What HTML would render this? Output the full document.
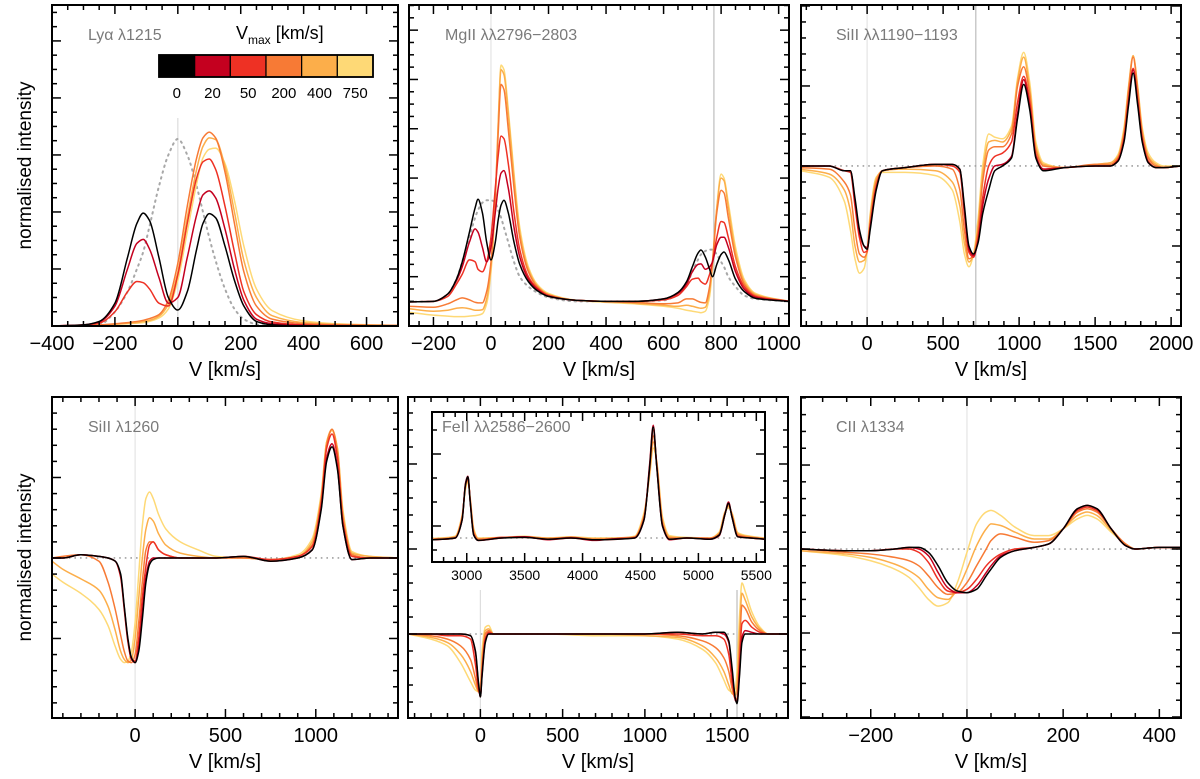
<!DOCTYPE html>
<html><head><meta charset="utf-8"><style>
html,body{margin:0;padding:0;background:#fff;}
svg{display:block;font-family:"Liberation Sans",Arial,sans-serif;}
</style></head><body>
<svg id="fig" width="1200" height="779" viewBox="0 0 1200 779" xmlns="http://www.w3.org/2000/svg"></svg>
<script>
// ---------- data ----------
const vmaxLabels = ["0","20","50","200","400","750"];
const seriesColors = ["#000000","#c4001f","#ee3124","#f77a35","#fcae4a","#fed976"];

// Panel 1: Ly-alpha
const lyaX = [-400,-300,-250,-200,-160,-130,-110,-90,-60,-30,0,30,60,80,100,120,150,180,210,250,300,400,500,700];
const lya0   = [0,0.02,0.08,0.4,1.2,1.8,1.98,1.85,1.2,0.5,0.28,0.6,1.35,1.8,1.97,1.9,1.4,0.8,0.35,0.08,0.02,0,0,0];
const lya20  = [0,0.02,0.07,0.35,1.0,1.45,1.52,1.35,0.85,0.4,0.5,1.2,1.95,2.3,2.37,2.25,1.7,1.0,0.45,0.12,0.04,0.01,0,0];
const lya50  = [0,0.02,0.05,0.25,0.6,0.78,0.76,0.65,0.4,0.35,0.9,1.8,2.6,2.88,2.93,2.75,2.1,1.3,0.6,0.2,0.07,0.02,0.01,0];
const lya200 = [0,0.01,0.02,0.04,0.06,0.08,0.1,0.13,0.2,0.45,1.1,2.1,2.95,3.3,3.4,3.3,2.7,1.8,0.95,0.35,0.12,0.04,0.02,0.01];
const lya400 = [0,0.01,0.02,0.03,0.05,0.06,0.08,0.1,0.17,0.38,0.95,1.9,2.75,3.15,3.3,3.27,2.8,2.0,1.15,0.5,0.18,0.06,0.03,0.01];
const lya750 = [0,0.01,0.02,0.03,0.04,0.05,0.06,0.08,0.14,0.3,0.8,1.65,2.5,2.95,3.1,3.12,2.85,2.2,1.4,0.65,0.27,0.09,0.04,0.01];
const lyaRef = [0,0,0.02,0.25,0.6,1.0,1.3,1.75,2.45,3.0,3.28,3.0,2.45,2.0,1.55,1.15,0.65,0.3,0.12,0.03,0,0,0,0];

// Panel 2: MgII
const mgX = [-285,-200,-150,-120,-100,-75,-55,-45,-30,-15,0,15,25,35,45,60,80,100,130,160,200,300,400,500,600,650,680,700,720,730,745,760,770,785,800,810,825,850,880,920,1036];
const mg0   = [0.49,0.5,0.65,0.95,1.3,1.9,2.4,2.57,2.3,1.7,1.34,1.7,2.15,2.45,2.55,2.3,1.7,1.25,0.9,0.72,0.6,0.52,0.5,0.5,0.55,0.68,0.9,1.2,1.48,1.54,1.4,1.15,1.0,1.25,1.45,1.5,1.35,0.95,0.7,0.56,0.5];
const mg20  = [0.49,0.5,0.65,0.92,1.2,1.7,1.97,1.9,1.6,1.3,1.6,2.3,2.8,3.1,3.15,2.8,2.0,1.4,0.95,0.75,0.6,0.52,0.5,0.5,0.55,0.66,0.85,1.1,1.25,1.26,1.15,1.2,1.3,1.65,1.8,1.8,1.6,1.1,0.75,0.58,0.5];
const mg50  = [0.49,0.5,0.6,0.85,1.05,1.34,1.3,1.15,1.1,1.3,1.8,2.8,3.45,3.85,3.8,3.3,2.3,1.55,1.0,0.77,0.62,0.52,0.5,0.5,0.53,0.62,0.8,0.95,0.97,0.9,0.85,1.05,1.3,1.8,2.12,2.1,1.8,1.2,0.8,0.6,0.5];
const mg200 = [0.4,0.38,0.45,0.53,0.57,0.53,0.48,0.47,0.47,0.7,1.3,2.6,3.9,4.9,4.8,4.0,2.8,1.8,1.1,0.8,0.63,0.52,0.5,0.48,0.45,0.47,0.55,0.55,0.5,0.48,0.47,0.8,1.3,2.3,2.75,2.7,2.2,1.4,0.85,0.62,0.5];
const mg400 = [0.35,0.3,0.32,0.36,0.37,0.35,0.32,0.32,0.33,0.55,1.2,2.6,4.1,5.2,5.1,4.3,3.0,1.9,1.15,0.82,0.64,0.52,0.5,0.46,0.42,0.4,0.42,0.4,0.37,0.36,0.38,0.7,1.3,2.4,3.0,2.95,2.4,1.5,0.9,0.64,0.5];
const mg750 = [0.28,0.22,0.2,0.19,0.19,0.2,0.21,0.22,0.25,0.45,1.1,2.5,4.1,5.29,5.2,4.4,3.1,2.0,1.2,0.85,0.66,0.52,0.48,0.45,0.4,0.36,0.32,0.3,0.28,0.27,0.3,0.6,1.2,2.4,3.08,3.0,2.5,1.6,0.95,0.66,0.5];
const mgRef = [0.49,0.5,0.65,0.95,1.3,1.8,2.2,2.35,2.5,2.55,2.55,2.5,2.35,2.2,2.0,1.7,1.3,1.0,0.8,0.68,0.58,0.5,0.5,0.5,0.52,0.65,0.85,1.1,1.35,1.45,1.52,1.55,1.55,1.45,1.3,1.2,1.0,0.8,0.62,0.55,0.5];

// Panel 3: SiII 1190-1193
const si1X = [-435,-250,-150,-110,-80,-50,-20,0,20,60,100,250,450,560,610,640,670,700,730,760,800,840,890,950,990,1030,1070,1110,1160,1300,1500,1600,1650,1690,1720,1750,1780,1810,1850,1900,1950,2065];
const si1_0   = [1,1,0.97,0.97,0.8,0.6,0.5,0.48,0.6,0.85,0.97,0.99,1.01,1.01,0.98,0.75,0.5,0.45,0.52,0.7,0.85,0.97,1.0,1.05,1.3,1.51,1.35,1.05,0.97,0.99,1.0,1.0,1.03,1.15,1.38,1.58,1.38,1.15,1.02,0.99,0.99,1.0];
const si1_20  = [1,1,0.97,0.97,0.78,0.58,0.5,0.49,0.62,0.86,0.97,0.99,1.01,1.01,0.98,0.73,0.48,0.44,0.53,0.75,0.92,1.0,1.01,1.06,1.33,1.54,1.37,1.06,0.98,0.99,1.0,1.0,1.03,1.16,1.4,1.6,1.4,1.16,1.02,0.99,0.99,1.0];
const si1_50  = [1,1,0.97,0.96,0.75,0.55,0.46,0.47,0.62,0.87,0.97,0.99,1.01,1.0,0.96,0.7,0.46,0.43,0.55,0.8,1.0,1.06,1.08,1.15,1.4,1.56,1.4,1.07,0.98,0.99,1.0,1.0,1.04,1.17,1.41,1.61,1.41,1.17,1.03,0.99,0.99,1.0];
const si1_200 = [0.99,0.98,0.9,0.82,0.6,0.45,0.43,0.46,0.65,0.9,0.97,0.99,1.0,0.98,0.85,0.6,0.42,0.44,0.6,0.9,1.1,1.12,1.12,1.2,1.5,1.62,1.45,1.1,1.0,0.99,1.01,1.01,1.05,1.2,1.47,1.68,1.47,1.2,1.05,1.0,0.99,1.0];
const si1_400 = [0.98,0.95,0.85,0.72,0.5,0.4,0.41,0.47,0.68,0.92,0.97,0.98,0.97,0.9,0.75,0.52,0.4,0.44,0.63,0.95,1.15,1.16,1.15,1.23,1.53,1.68,1.48,1.12,1.01,0.99,1.01,1.02,1.06,1.22,1.49,1.69,1.49,1.22,1.06,1.01,0.99,1.0];
const si1_750 = [0.97,0.93,0.78,0.6,0.42,0.33,0.36,0.47,0.7,0.93,0.96,0.96,0.94,0.85,0.65,0.45,0.37,0.45,0.67,1.0,1.2,1.18,1.17,1.25,1.55,1.71,1.52,1.15,1.02,0.99,1.01,1.02,1.07,1.24,1.5,1.69,1.5,1.24,1.08,1.02,1.0,1.0];

// Panel 4: SiII 1260
const si2X = [-460,-400,-300,-200,-150,-110,-80,-60,-40,-20,0,20,40,60,80,100,130,170,250,350,450,600,750,900,980,1030,1060,1090,1120,1150,1200,1300,1455];
const si2_0   = [1,1,1.02,1.01,1.0,0.98,0.9,0.7,0.5,0.38,0.35,0.42,0.62,0.85,0.96,0.99,1.0,1.0,1.0,1.0,1.0,1.01,0.98,1.0,1.05,1.3,1.6,1.69,1.55,1.2,0.99,1.0,1.0];
const si2_20  = [1,1,1.02,1.01,1.0,0.98,0.89,0.69,0.49,0.37,0.35,0.44,0.66,0.88,0.98,1.0,1.0,1.0,1.0,1.0,1.0,1.01,0.98,1.0,1.05,1.31,1.62,1.71,1.56,1.2,0.99,1.0,1.0];
const si2_50  = [1,1,1.02,1.01,1.0,0.98,0.88,0.68,0.48,0.37,0.36,0.5,0.75,0.95,1.08,1.1,1.05,1.02,1.0,1.0,1.0,1.01,0.99,1.01,1.07,1.34,1.68,1.77,1.62,1.23,1.01,1.0,1.0];
const si2_200 = [1.0,1.01,1.02,0.98,0.85,0.68,0.52,0.42,0.36,0.35,0.4,0.6,0.85,1.05,1.1,1.1,1.05,1.02,1.0,1.0,1.0,1.0,0.99,1.01,1.08,1.36,1.7,1.8,1.65,1.25,1.02,1.0,1.0];
const si2_400 = [0.98,0.93,0.87,0.8,0.7,0.55,0.42,0.37,0.35,0.37,0.5,0.75,1.0,1.18,1.25,1.23,1.15,1.08,1.03,1.01,1.0,1.0,0.99,1.01,1.1,1.38,1.72,1.8,1.68,1.28,1.03,1.01,1.0];
const si2_750 = [0.9,0.85,0.78,0.68,0.58,0.45,0.37,0.35,0.36,0.42,0.6,0.9,1.2,1.37,1.41,1.37,1.27,1.18,1.1,1.05,1.01,1.0,0.99,1.02,1.12,1.4,1.72,1.79,1.68,1.3,1.04,1.01,1.0];

// Panel 5: FeII main
const feX = [-440,-300,-200,-120,-60,-30,-10,0,10,30,50,80,150,400,700,1000,1200,1350,1430,1480,1510,1530,1550,1560,1575,1590,1610,1650,1700,1750,1870];
const fe0   = [1,1,1,1,0.99,0.9,0.7,0.63,0.75,0.95,1.0,1.0,1,1,1,1,1.01,1.0,1.01,1.01,0.96,0.8,0.62,0.59,0.75,0.95,1.0,1.0,1.0,1.0,1.0];
const fe20  = [1,1,1,1,0.99,0.89,0.69,0.63,0.76,0.96,1.0,1.0,1,1,1,1,1.01,1.0,1.01,1.0,0.95,0.78,0.61,0.6,0.77,0.98,1.02,1.01,1.0,1.0,1.0];
const fe50  = [1,1,0.99,0.99,0.97,0.82,0.67,0.64,0.78,0.97,1.01,1.0,1,1,1,1,1.0,0.99,0.99,0.97,0.88,0.72,0.62,0.6,0.82,1.06,1.08,1.04,1.01,1.0,1.0];
const fe200 = [1,0.99,0.97,0.93,0.85,0.74,0.66,0.65,0.8,1.0,1.02,1.0,1,1,1,1,0.99,0.96,0.92,0.86,0.78,0.68,0.62,0.62,0.9,1.17,1.15,1.07,1.02,1.0,1.0];
const fe400 = [1,0.98,0.95,0.88,0.78,0.7,0.66,0.67,0.85,1.02,1.03,1.0,1,1,1,0.99,0.98,0.93,0.86,0.78,0.7,0.65,0.64,0.7,1.0,1.24,1.2,1.1,1.03,1.0,1.0];
const fe750 = [1,0.97,0.93,0.83,0.72,0.67,0.66,0.7,0.9,1.04,1.05,1.0,1,1,0.99,0.99,0.97,0.91,0.83,0.73,0.67,0.66,0.68,0.78,1.1,1.3,1.25,1.13,1.04,1.0,1.0];

// Inset: FeII fluorescent
const finX = [2700,2900,2960,2990,3010,3030,3060,3100,3300,3500,3700,3900,4100,4300,4450,4530,4580,4610,4640,4690,4750,4900,5100,5180,5230,5260,5290,5340,5450,5575];
const fin0   = [0.97,1.0,1.3,1.9,2.02,1.6,1.05,0.96,1.0,1.01,0.98,1.0,0.97,0.98,1.0,1.3,2.2,2.85,2.2,1.2,0.98,1.0,0.98,1.05,1.4,1.58,1.35,1.02,1.0,0.98];
const fin20  = [0.97,1.0,1.3,1.92,2.03,1.6,1.05,0.96,1.0,1.02,0.97,1.0,0.96,0.99,1.0,1.3,2.25,2.88,2.2,1.2,0.97,1.0,0.98,1.04,1.4,1.6,1.35,1.02,1.0,0.98];
const fin50  = [0.97,1.0,1.32,1.9,2.0,1.62,1.07,0.96,1.01,1.01,0.98,1.01,0.97,0.98,1.01,1.32,2.2,2.8,2.22,1.22,0.98,1.0,0.99,1.05,1.4,1.57,1.36,1.03,1.0,0.98];
const fin200 = [0.98,1.01,1.34,1.88,1.98,1.63,1.1,0.98,1.0,1.02,0.99,1.0,0.98,0.99,1.01,1.35,2.15,2.7,2.25,1.25,1.0,1.0,0.99,1.07,1.42,1.55,1.38,1.05,1.01,0.99];
const fin400 = [0.98,1.02,1.36,1.85,1.96,1.65,1.13,0.99,1.01,1.02,1.0,1.01,0.99,1.0,1.02,1.38,2.1,2.6,2.27,1.3,1.02,1.0,1.0,1.08,1.43,1.53,1.4,1.07,1.02,0.99];
const fin750 = [0.99,1.03,1.38,1.82,1.94,1.67,1.16,1.0,1.01,1.03,1.0,1.02,1.0,1.0,1.03,1.42,2.05,2.5,2.28,1.35,1.04,1.01,1.0,1.1,1.44,1.5,1.42,1.09,1.03,1.0];

// Panel 6: CII 1334
const ciX = [-345,-250,-200,-150,-120,-100,-80,-60,-40,-20,0,20,40,50,70,100,140,170,200,230,250,270,300,330,350,400,445];
const ci0   = [1.0,0.99,0.99,1.0,1.01,1.01,0.98,0.9,0.8,0.75,0.74,0.76,0.84,0.88,0.95,0.99,1.01,1.03,1.12,1.24,1.26,1.24,1.12,1.02,1.0,1.01,1.01];
const ci20  = [1.0,0.99,0.99,1.0,1.01,1.0,0.96,0.86,0.77,0.74,0.74,0.78,0.86,0.9,0.96,0.99,1.01,1.03,1.12,1.24,1.26,1.24,1.12,1.02,1.0,1.01,1.01];
const ci50  = [1.0,0.99,0.99,1.0,1.0,0.98,0.92,0.82,0.75,0.74,0.76,0.82,0.9,0.93,0.97,1.0,1.01,1.03,1.12,1.23,1.25,1.23,1.12,1.02,1.0,1.01,1.01];
const ci200 = [1.0,0.98,0.97,0.95,0.93,0.9,0.84,0.77,0.73,0.74,0.8,0.9,1.0,1.05,1.09,1.07,1.04,1.05,1.12,1.22,1.24,1.22,1.12,1.03,1.0,1.01,1.01];
const ci400 = [0.99,0.97,0.95,0.91,0.87,0.83,0.76,0.71,0.7,0.76,0.88,1.02,1.12,1.15,1.14,1.1,1.06,1.06,1.12,1.2,1.22,1.2,1.11,1.03,1.0,1.01,1.01];
const ci750 = [0.99,0.96,0.93,0.88,0.83,0.77,0.7,0.66,0.68,0.8,0.98,1.15,1.22,1.23,1.2,1.13,1.08,1.08,1.12,1.18,1.2,1.18,1.1,1.03,1.0,1.01,1.01];

// ---------- drawing ----------
const NS = "http://www.w3.org/2000/svg";
const svg = document.getElementById('fig');
function el(tag, attrs, parent) {
  const e = document.createElementNS(NS, tag);
  for (const k in attrs) e.setAttribute(k, attrs[k]);
  (parent || svg).appendChild(e);
  return e;
}
let clipId = 0;
// monotone cubic (Fritsch-Carlson) interpolation in pixel space, sampled densely
function smoothPath(pts) {
  const n = pts.length, xs = pts.map(p => p[0]), ys = pts.map(p => p[1]);
  const d = [], m = new Array(n);
  for (let i = 0; i < n - 1; i++) d.push((ys[i + 1] - ys[i]) / (xs[i + 1] - xs[i]));
  m[0] = d[0]; m[n - 1] = d[n - 2];
  for (let i = 1; i < n - 1; i++) {
    if (d[i - 1] * d[i] <= 0) m[i] = 0;
    else {
      const h0 = xs[i] - xs[i - 1], h1 = xs[i + 1] - xs[i];
      const w1 = 2 * h1 + h0, w2 = h1 + 2 * h0;
      m[i] = (w1 + w2) / (w1 / d[i - 1] + w2 / d[i]);
    }
  }
  let s = "M" + xs[0].toFixed(2) + "," + ys[0].toFixed(2);
  for (let i = 0; i < n - 1; i++) {
    const h = xs[i + 1] - xs[i];
    s += "C" + (xs[i] + h / 3).toFixed(2) + "," + (ys[i] + m[i] * h / 3).toFixed(2) + " " +
         (xs[i + 1] - h / 3).toFixed(2) + "," + (ys[i + 1] - m[i + 1] * h / 3).toFixed(2) + " " +
         xs[i + 1].toFixed(2) + "," + ys[i + 1].toFixed(2);
  }
  return s;
}
function makePanel(cfg) {
  const g = el('g', {});
  
  
  const sx = v => cfg.L + (v - cfg.x0) / (cfg.x1 - cfg.x0) * (cfg.R - cfg.L);
  const sy = v => cfg.B - (v - cfg.y0) / (cfg.y1 - cfg.y0) * (cfg.B - cfg.T);
  const id = 'clip' + (clipId++);
  const cp = el('clipPath', { id: id }, g);
  el('rect', { x: cfg.L, y: cfg.T, width: cfg.R - cfg.L, height: cfg.B - cfg.T }, cp);
  const plot = el('g', { 'clip-path': 'url(#' + id + ')' }, g);
  (cfg.vlines || []).forEach(vl => {
    const ln = el('line', { x1: sx(vl[0]), x2: sx(vl[0]), y1: vl[2] || cfg.T, y2: cfg.B, stroke: vl[1], 'stroke-width': 1.2 }, plot);
    
    
  });
  if (cfg.cont !== undefined) {
    const ln = el('line', { x1: cfg.L, x2: cfg.R, y1: sy(cfg.cont), y2: sy(cfg.cont), stroke: '#a0a0a0', 'stroke-width': 1.6, 'stroke-dasharray': '1.6 4' }, plot);
    
    
  }
  if (cfg.ref) {
    const p = el('path', { d: smoothPath(cfg.xs.map((x, i) => [sx(x), sy(cfg.ref[i])])), fill: 'none', stroke: '#a8a8a8', 'stroke-width': 2, 'stroke-dasharray': '1.5 4.5', 'stroke-linecap': 'round' }, plot);
    
    
  }
  for (let s = cfg.series.length - 1; s >= 0; s--) {
    const ys = cfg.series[s];
    const p = el('path', { d: smoothPath(cfg.xs.map((x, i) => [sx(x), sy(ys[i])])), fill: 'none', stroke: seriesColors[s], 'stroke-width': 1.5 }, plot);
    
    
  }
  const fr = el('rect', { x: cfg.L, y: cfg.T, width: cfg.R - cfg.L, height: cfg.B - cfg.T, fill: 'none', stroke: '#000', 'stroke-width': 2 }, g);
  
  
  const eps = 1e-6;
  let t0 = Math.ceil((cfg.x0 - eps) / cfg.xmin) * cfg.xmin;
  for (let t = t0; t <= cfg.x1 + eps; t += cfg.xmin) {
    const major = Math.abs(t / cfg.xmaj - Math.round(t / cfg.xmaj)) < 1e-6;
    const len = major ? 9 : 5, x = sx(t);
    el('line', { x1: x, x2: x, y1: cfg.B, y2: cfg.B - len, stroke: '#000', 'stroke-width': 1.5 }, g);
    el('line', { x1: x, x2: x, y1: cfg.T, y2: cfg.T + len, stroke: '#000', 'stroke-width': 1.5 }, g);
    if (major) {
      const lbl = (t < 0 ? '\u2212' + Math.abs(Math.round(t)) : String(Math.round(t)));
      const tx = el('text', { x: x, y: cfg.B + cfg.tickFs + 4, 'font-size': cfg.tickFs, 'text-anchor': 'middle', fill: '#000' }, g);
      tx.textContent = lbl;
      
      
    }
  }
  t0 = Math.ceil((cfg.y0 - eps) / cfg.ymin) * cfg.ymin;
  for (let t = t0; t <= cfg.y1 + eps; t += cfg.ymin) {
    const major = Math.abs(t / cfg.ymaj - Math.round(t / cfg.ymaj)) < 1e-6;
    const len = major ? 9 : 5, y = sy(t);
    el('line', { x1: cfg.L, x2: cfg.L + len, y1: y, y2: y, stroke: '#000', 'stroke-width': 1.5 }, g);
    el('line', { x1: cfg.R, x2: cfg.R - len, y1: y, y2: y, stroke: '#000', 'stroke-width': 1.5 }, g);
  }
  if (cfg.xtitle) {
    const tx = el('text', { x: (cfg.L + cfg.R) / 2, y: cfg.B + 50, 'font-size': 20, 'text-anchor': 'middle', fill: '#000' }, g);
    tx.textContent = 'V [km/s]';
    
    
  }
  if (cfg.title) {
    const tx = el('text', { x: cfg.title[1], y: cfg.title[2], 'font-size': 16, fill: '#7a7a7a' }, g);
    tx.textContent = cfg.title[0];
    
    
  }
  if (cfg.ytitle) {
    const cy = (cfg.T + cfg.B) / 2;
    const tx = el('text', { x: 31, y: cy, 'font-size': 19, 'text-anchor': 'middle', fill: '#000', transform: 'rotate(-90 31 ' + cy + ')' }, g);
    tx.textContent = 'normalised intensity';
    
    
  }
  return g;
}

makePanel({ name: 'panel-lya', L: 52, R: 398, T: 5, B: 326, x0: -400, x1: 700, y0: 0, y1: 5.63, xmaj: 200, xmin: 50, ymaj: 1, ymin: 0.25, tickFs: 20,
  xs: lyaX, series: [lya0, lya20, lya50, lya200, lya400, lya750], ref: lyaRef, vlines: [[0, '#dddddd', 118]], xtitle: true, ytitle: true, title: ['Ly\u03b1 \u03bb1215', 88, 40] });
makePanel({ name: 'panel-mgii', L: 409, R: 789, T: 5, B: 326, x0: -285, x1: 1036, y0: 0, y1: 6.51, xmaj: 200, xmin: 50, ymaj: 1, ymin: 0.25, tickFs: 20,
  xs: mgX, series: [mg0, mg20, mg50, mg200, mg400, mg750], ref: mgRef, vlines: [[0, '#e4e4e4'], [775, '#bdbdbd']], xtitle: true, title: ['MgII \u03bb\u03bb2796\u22122803', 445, 40] });
makePanel({ name: 'panel-sii-1190', L: 801, R: 1181, T: 5, B: 326, x0: -435, x1: 2065, y0: 0, y1: 2.006, xmaj: 500, xmin: 100, ymaj: 0.5, ymin: 0.1, tickFs: 20,
  xs: si1X, series: [si1_0, si1_20, si1_50, si1_200, si1_400, si1_750], cont: 1, vlines: [[0, '#e4e4e4'], [715, '#bdbdbd']], xtitle: true, title: ['SiII \u03bb\u03bb1190\u22121193', 836, 40] });
makePanel({ name: 'panel-sii-1260', L: 52, R: 398, T: 397, B: 718, x0: -460, x1: 1455, y0: 0.006, y1: 2.0, xmaj: 500, xmin: 100, ymaj: 0.5, ymin: 0.1, tickFs: 20,
  xs: si2X, series: [si2_0, si2_20, si2_50, si2_200, si2_400, si2_750], cont: 1, vlines: [[0, '#e4e4e4']], xtitle: true, ytitle: true, title: ['SiII \u03bb1260', 88, 432] });
makePanel({ name: 'panel-feii', L: 408, R: 788, T: 397, B: 718, x0: -440, x1: 1870, y0: 0.506, y1: 2.394, xmaj: 500, xmin: 100, ymaj: 0.5, ymin: 0.1, tickFs: 20,
  xs: feX, series: [fe0, fe20, fe50, fe200, fe400, fe750], cont: 1, vlines: [[0, '#dddddd', 590], [1560, '#bdbdbd', 590]], xtitle: true });
el('rect', { x: 432, y: 412, width: 333, height: 150, fill: '#fff' });
makePanel({ name: 'panel-feii-inset', L: 432, R: 765, T: 412, B: 562, x0: 2700, x1: 5575, y0: 0.6, y1: 3.1, xmaj: 500, xmin: 100, ymaj: 1.2, ymin: 0.4, tickFs: 14,
  xs: finX, series: [fin0, fin20, fin50, fin200, fin400, fin750], cont: 1, title: ['FeII \u03bb\u03bb2586\u22122600', 442, 432] });
makePanel({ name: 'panel-cii', L: 801, R: 1181, T: 397, B: 718, x0: -345, x1: 445, y0: -0.006, y1: 1.905, xmaj: 200, xmin: 50, ymaj: 0.5, ymin: 0.1, tickFs: 20,
  xs: ciX, series: [ci0, ci20, ci50, ci200, ci400, ci750], cont: 1, vlines: [[0, '#e4e4e4']], xtitle: true, title: ['CII \u03bb1334', 836, 432] });

// legend colour bar
const leg = el('g', {});


const lt = el('text', { x: 236, y: 39, 'font-size': 18, fill: '#000' }, leg);
lt.innerHTML = 'V<tspan font-size="12" dy="5">max</tspan><tspan dy="-5"> [km/s]</tspan>';


const bw = (373 - 159) / vmaxLabels.length;
vmaxLabels.forEach((lab, i) => {
  const r = el('rect', { x: 159 + i * bw, y: 55, width: bw, height: 22, fill: seriesColors[i], stroke: '#000', 'stroke-width': 1.2 }, leg);
  
  
  const t = el('text', { x: 159 + i * bw + bw / 2, y: 98, 'font-size': 15, 'text-anchor': 'middle', fill: '#000' }, leg);
  t.textContent = lab;
  
  
});
el('rect', { x: 159, y: 55, width: 214, height: 22, fill: 'none', stroke: '#000', 'stroke-width': 1.8 }, leg);
</script>
</body></html>
